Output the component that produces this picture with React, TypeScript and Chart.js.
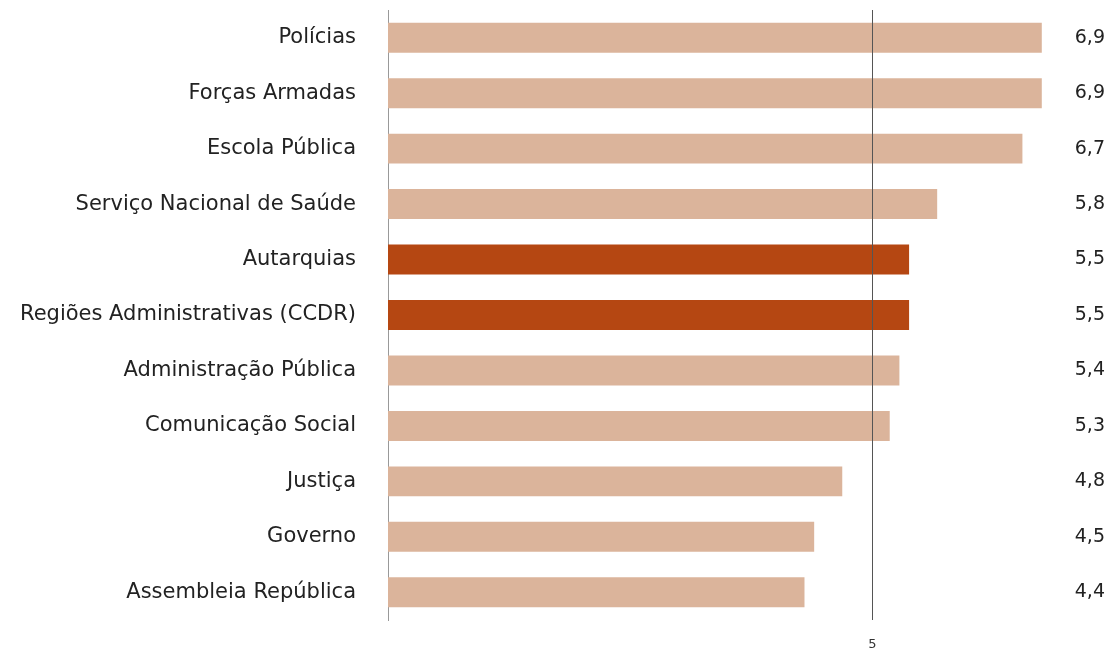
import React, { useEffect, useRef } from "react";
import { Chart, registerables } from "chart.js";

Chart.register(...registerables);

const categories = [
  "Polícias",
  "Forças Armadas",
  "Escola Pública",
  "Serviço Nacional de Saúde",
  "Autarquias",
  "Regiões Administrativas (CCDR)",
  "Administração Pública",
  "Comunicação Social",
  "Justiça",
  "Governo",
  "Assembleia República",
];
const barValues = [6.75, 6.75, 6.55, 5.67, 5.38, 5.38, 5.28, 5.18, 4.69, 4.4, 4.3];
const valueLabels = ["6,9", "6,9", "6,7", "5,8", "5,5", "5,5", "5,4", "5,3", "4,8", "4,5", "4,4"];
const highlighted = [false, false, false, false, true, true, false, false, false, false, false];
const xTicks = [5];

const LIGHT = "#DBB49B";
const DARK = "#B54712";
const FONT = "'DejaVu Sans', sans-serif";

export default function App() {
  const ref = useRef<HTMLCanvasElement | null>(null);
  useEffect(() => {
    if (!ref.current) return;
    const valuePlugin = {
      id: "valueLabels",
      afterDatasetsDraw(chart: any) {
        const ctx = chart.ctx;
        const meta = chart.getDatasetMeta(0);
        ctx.save();
        ctx.font = `19px ${FONT}`;
        ctx.fillStyle = "#222222";
        ctx.textAlign = "right";
        ctx.textBaseline = "middle";
        meta.data.forEach((bar: any, i: number) => {
          ctx.fillText(valueLabels[i], chart.width - 3, bar.y);
        });
        ctx.restore();
      },
    };
    const chart = new Chart(ref.current, {
      type: "bar",
      data: {
        labels: categories,
        datasets: [
          {
            data: barValues,
            backgroundColor: highlighted.map((h) => (h ? DARK : LIGHT)),
            barPercentage: 0.54,
            categoryPercentage: 1,
          },
        ],
      },
      options: {
        indexAxis: "y",
        animation: false,
        responsive: false,
        layout: { autoPadding: false, padding: { top: 10, right: 42, left: 0, bottom: 0 } },
        plugins: { legend: { display: false }, tooltip: { enabled: false } },
        scales: {
          x: {
            min: 0,
            max: 7,
            afterBuildTicks: (scale: any) => {
              scale.ticks = xTicks.map((v) => ({ value: v }));
            },
            afterFit: (scale: any) => {
              scale.height = 31;
              scale.paddingLeft = 0;
              scale.paddingRight = 0;
            },
            border: { display: false },
            grid: { color: "#555555", lineWidth: 1, drawTicks: false, z: 1 },
            ticks: { padding: 17, font: { family: FONT, size: 13 }, color: "#333333" },
          },
          y: {
            afterFit: (scale: any) => {
              scale.width = 388;
              scale.paddingTop = 0;
              scale.paddingBottom = 0;
            },
            border: { display: true, color: "#999999", width: 1 },
            grid: { display: false, drawTicks: false },
            ticks: { padding: 32, font: { family: FONT, size: 21 }, color: "#222222" },
          },
        },
      },
      plugins: [valuePlugin],
    });
    return () => chart.destroy();
  }, []);
  return (
    <div style={{ position: "fixed", left: 0, top: 0, width: 1108, height: 651, background: "#fff" }}>
      <canvas ref={ref} width={1108} height={651} style={{ display: "block", width: 1108, height: 651 }} />
    </div>
  );
}
